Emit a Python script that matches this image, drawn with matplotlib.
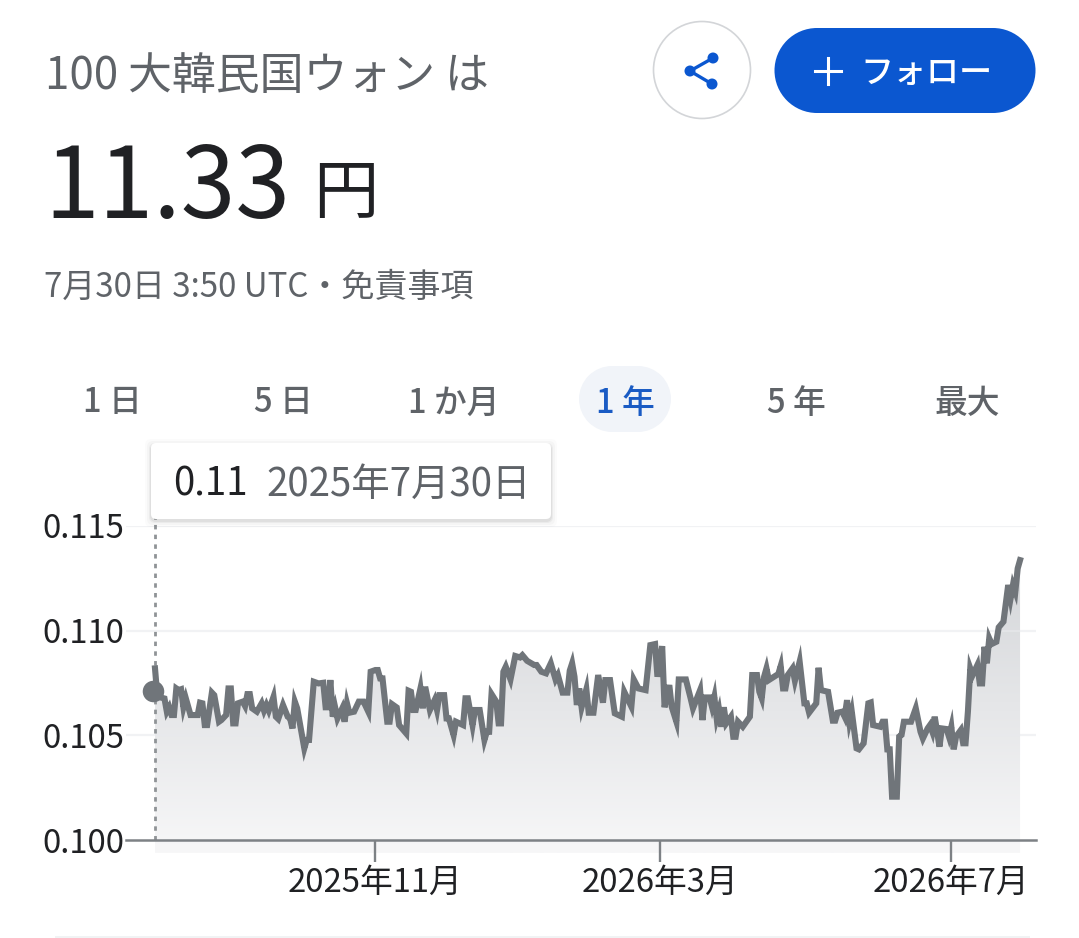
import numpy as np
import matplotlib
import matplotlib.pyplot as plt
from matplotlib.patches import Circle, FancyBboxPatch, Rectangle

matplotlib.use('Agg')

plt.rcParams['font.family'] = ['Noto Sans CJK JP', 'DejaVu Sans']

days = [
    0, 1, 4, 5, 6, 7, 8, 9, 10, 11, 12, 13, 15, 18, 19, 20, 21, 22, 24, 25, 27, 28, 30, 31, 32, 33, 34, 35, 37, 38,
    39, 40, 41, 43, 45, 46, 47, 48, 50, 51, 52, 54, 56, 57, 58, 59, 60, 62, 63, 64, 65, 67, 69, 71, 72, 73, 74, 75, 76, 77,
    79, 80, 81, 82, 84, 86, 88, 90, 91, 93, 94, 95, 96, 97, 98, 99, 100, 102, 103, 106, 107, 108, 109, 110, 112, 113, 114, 116, 118, 119,
    120, 122, 123, 124, 126, 127, 130, 131, 132, 134, 135, 137, 139, 140, 141, 142, 144, 145, 146, 147, 148, 150, 152, 154, 155, 157, 160, 161, 163, 165,
    167, 169, 170, 172, 174, 175, 176, 177, 178, 179, 180, 182, 183, 185, 187, 189, 190, 192, 194, 197, 198, 200, 201, 202, 204, 207, 209, 211, 212, 214,
    215, 217, 218, 220, 221, 224, 226, 227, 230, 231, 232, 234, 235, 236, 237, 238, 239, 240, 241, 243, 244, 245, 246, 248, 251, 252, 254, 255, 256, 257,
    258, 259, 263, 264, 265, 266, 267, 269, 270, 272, 274, 275, 276, 279, 280, 281, 284, 286, 287, 288, 290, 291, 292, 293, 294, 296, 297, 299, 301, 302,
    303, 306, 307, 308, 309, 310, 311, 313, 314, 315, 316, 319, 321, 323, 324, 326, 327, 328, 329, 331, 332, 334, 335, 336, 337, 338, 340, 341, 342, 343,
    344, 345, 347, 348, 349, 350, 351, 352, 353, 355, 356, 358, 360, 361, 362, 363, 364, 365,
]
rates = [
    0.10820, 0.10685, 0.10676, 0.10613, 0.10634, 0.10597, 0.10597, 0.10724, 0.10716, 0.10720, 0.10634, 0.10677, 0.10597, 0.10597, 0.10656,
    0.10653, 0.10549, 0.10549, 0.10704, 0.10692, 0.10565, 0.10573, 0.10597, 0.10724, 0.10724, 0.10557, 0.10557, 0.10653, 0.10661, 0.10640,
    0.10697, 0.10697, 0.10629, 0.10613, 0.10653, 0.10618, 0.10645, 0.10618, 0.10684, 0.10589, 0.10578, 0.10645, 0.10589, 0.10581, 0.10533,
    0.10661, 0.10629, 0.10501, 0.10438, 0.10478, 0.10478, 0.10756, 0.10748, 0.10751, 0.10634, 0.10634, 0.10764, 0.10589, 0.10634, 0.10581,
    0.10629, 0.10565, 0.10653, 0.10608, 0.10613, 0.10661, 0.10661, 0.10613, 0.10804, 0.10812, 0.10812, 0.10772, 0.10772, 0.10669, 0.10565,
    0.10565, 0.10649, 0.10633, 0.10549, 0.10509, 0.10713, 0.10708, 0.10621, 0.10621, 0.10724, 0.10629, 0.10732, 0.10621, 0.10669, 0.10621,
    0.10692, 0.10692, 0.10581, 0.10581, 0.10501, 0.10565, 0.10549, 0.10677, 0.10677, 0.10549, 0.10621, 0.10621, 0.10478, 0.10517, 0.10517,
    0.10697, 0.10661, 0.10557, 0.10557, 0.10804, 0.10828, 0.10767, 0.10879, 0.10872, 0.10883, 0.10856, 0.10836, 0.10836, 0.10804, 0.10796,
    0.10844, 0.10767, 0.10788, 0.10704, 0.10704, 0.10809, 0.10844, 0.10780, 0.10645, 0.10724, 0.10634, 0.10720, 0.10608, 0.10608, 0.10788,
    0.10656, 0.10764, 0.10764, 0.10605, 0.10589, 0.10708, 0.10661, 0.10637, 0.10767, 0.10724, 0.10716, 0.10931, 0.10936, 0.10780, 0.10926,
    0.10634, 0.10740, 0.10637, 0.10565, 0.10767, 0.10767, 0.10677, 0.10629, 0.10716, 0.10573, 0.10681, 0.10681, 0.10637, 0.10684, 0.10581,
    0.10621, 0.10541, 0.10634, 0.10557, 0.10589, 0.10493, 0.10493, 0.10565, 0.10541, 0.10589, 0.10788, 0.10788, 0.10708, 0.10677, 0.10780,
    0.10820, 0.10764, 0.10793, 0.10831, 0.10724, 0.10724, 0.10788, 0.10820, 0.10761, 0.10852, 0.10653, 0.10653, 0.10608, 0.10653, 0.10823,
    0.10716, 0.10708, 0.10570, 0.10570, 0.10608, 0.10613, 0.10589, 0.10668, 0.10565, 0.10613, 0.10438, 0.10433, 0.10462, 0.10653, 0.10657,
    0.10549, 0.10541, 0.10565, 0.10565, 0.10433, 0.10433, 0.10207, 0.10207, 0.10494, 0.10502, 0.10565, 0.10565, 0.10629, 0.10517, 0.10485,
    0.10533, 0.10549, 0.10517, 0.10589, 0.10446, 0.10533, 0.10530, 0.10494, 0.10541, 0.10433, 0.10494, 0.10525, 0.10462, 0.10462, 0.10613,
    0.10820, 0.10788, 0.10836, 0.10748, 0.10748, 0.10923, 0.10844, 0.10963, 0.10936, 0.10947, 0.11016, 0.11043, 0.11218, 0.11154, 0.11218,
    0.11186, 0.11297, 0.11337,
]
y_ticks = [0.100, 0.105, 0.110, 0.115]
y_labels = ['0.100', '0.105', '0.110', '0.115']
x_ticks = [93, 213, 336]
x_labels = ['2025年11月', '2026年3月', '2026年7月']
tabs = ['1 日', '5 日', '1 か月', '1 年', '5 年', '最大']
hover_rate = 0.1071

W, H = 1079, 938
LINE = '#70757a'
GRAY = '#5f6368'
DARK = '#202124'
BLUE = '#0b57d0'

n = min(len(days), len(rates))
days = days[:n]
rates = rates[:n]

fig = plt.figure(figsize=(W / 100, H / 100), dpi=100, facecolor='white')

# chart axes, placed in pixels
left, right, top, bottom = 126, 1036, 526, 840
ax = fig.add_axes([left / W, 1 - bottom / H, (right - left) / W, (bottom - top) / H])
xlim = ((left - 155) / 2.37, (right - 155) / 2.37)
ylim = (0.100, 0.115)
ax.patch.set_alpha(0)

# gradient under the line, runs a little past the baseline like the original
floor = 0.09938
grad = np.linspace(0, 1, 256).reshape(-1, 1)
cmap = matplotlib.colors.LinearSegmentedColormap.from_list('fade', ['#d4d6d9', '#f7f7f8'])
im = ax.imshow(grad, cmap=cmap, aspect='auto', zorder=1,
               extent=[days[0], days[-1], floor, max(rates)], origin='upper')
poly = ax.fill_between(days, rates, floor, color='none')
im.set_clip_box(fig.bbox)
im.set_clip_path(poly.get_paths()[0], transform=ax.transData)
ax.set_xlim(*xlim)
ax.set_ylim(*ylim)

for t in y_ticks[1:]:
    ax.axhline(t, color='#e8eaed', lw=1.6, alpha=0.6, zorder=2)

ax.plot([0, 0], [0.100, 0.1155], color='#8f9396', lw=2.0, ls=(0, (1.6, 1.9)), zorder=2, clip_on=False)
ax.plot(days, rates, color=LINE, lw=4.4, solid_joinstyle='miter', zorder=3)
ax.plot([-0.8], [hover_rate], 'o', color=LINE, ms=15.5, mew=0, zorder=4, clip_on=False)

for s in ['top', 'left', 'right']:
    ax.spines[s].set_visible(False)
ax.spines['bottom'].set_color('#7d8185')
ax.spines['bottom'].set_linewidth(1.8)
ax.set_yticks(y_ticks)
ax.set_yticklabels(y_labels, fontsize=23.6, color=DARK)
ax.tick_params(axis='y', length=0, pad=1.5)
ax.set_xticks(x_ticks)
ax.set_xticklabels(x_labels, fontsize=23.6, color=DARK)
ax.tick_params(axis='x', length=16, width=1.7, color='#7d8185', pad=3.5, direction='out')

# page elements around the chart, in pixels
ui = fig.add_axes([0, 0, 1, 1], zorder=5)
ui.set_xlim(0, W)
ui.set_ylim(H, 0)
ui.axis('off')

ui.text(45, 76, '100 大韓民国ウォン は', fontsize=31.6, color=GRAY, va='center', ha='left')
ui.text(44, 190, '11.33', fontsize=71, color=DARK, va='center', ha='left')
ui.text(313, 195, '円', fontsize=47, color=DARK, va='center', ha='left')
ui.text(44, 287, '7月30日 3:50 UTC・免責事項', fontsize=23.8, color=GRAY, va='center', ha='left')

# share button
ui.add_patch(Circle((702, 70), 48.5, fc='white', ec='#d3d5d8', lw=1.2))
nodes = [(713, 58), (690, 71), (712, 84)]
ui.plot([nodes[0][0], nodes[1][0], nodes[2][0]], [nodes[0][1], nodes[1][1], nodes[2][1]], color=BLUE, lw=2.4)
for nx, ny in nodes:
    ui.add_patch(Circle((nx, ny), 5.5, fc=BLUE, ec='none'))

# follow button
ui.add_patch(Rectangle((817, 28), 176, 85, fc=BLUE, ec='none'))
ui.add_patch(Circle((817, 70.5), 42.5, fc=BLUE, ec='none'))
ui.add_patch(Circle((993, 70.5), 42.5, fc=BLUE, ec='none'))
ui.plot([815, 841], [71, 71], color='white', lw=2.2)
ui.plot([828, 828], [58, 84], color='white', lw=2.2)
ui.text(926, 73, 'フォロー', fontsize=23.8, color='white', va='center', ha='center', fontweight='medium')

# range tabs
ui.add_patch(Rectangle((612, 366), 26, 66, fc='#f1f4f9', ec='none'))
ui.add_patch(Circle((612, 399), 33, fc='#f1f4f9', ec='none'))
ui.add_patch(Circle((638, 399), 33, fc='#f1f4f9', ec='none'))
for i, label in enumerate(tabs):
    active = label == '1 年'
    ui.text(112 + 171 * i, 403, label, fontsize=23.6, va='center', ha='center', fontweight='medium',
            color='#1a5bc4' if active else GRAY)

# hover tooltip
for off, a in [(6, 0.015), (4, 0.025), (2, 0.04), (1, 0.05)]:
    ui.add_patch(FancyBboxPatch((151 - off, 443 - off + 2), 400 + 2 * off, 76 + 2 * off,
                                boxstyle='round,pad=0,rounding_size=6', fc='black', ec='none', alpha=a))
ui.add_patch(FancyBboxPatch((151, 443), 400, 76, boxstyle='round,pad=0,rounding_size=5', fc='white', ec='none'))
ui.text(173, 485, '0.11', fontsize=27.7, color=DARK, va='center', ha='left')
ui.text(266, 485, '2025年7月30日', fontsize=27.7, color=GRAY, va='center', ha='left')

ui.add_patch(Rectangle((55, 936), 975, 2, fc='#f1f3f4', ec='none'))

fig.savefig('out.png', dpi=100)
plt.close(fig)
